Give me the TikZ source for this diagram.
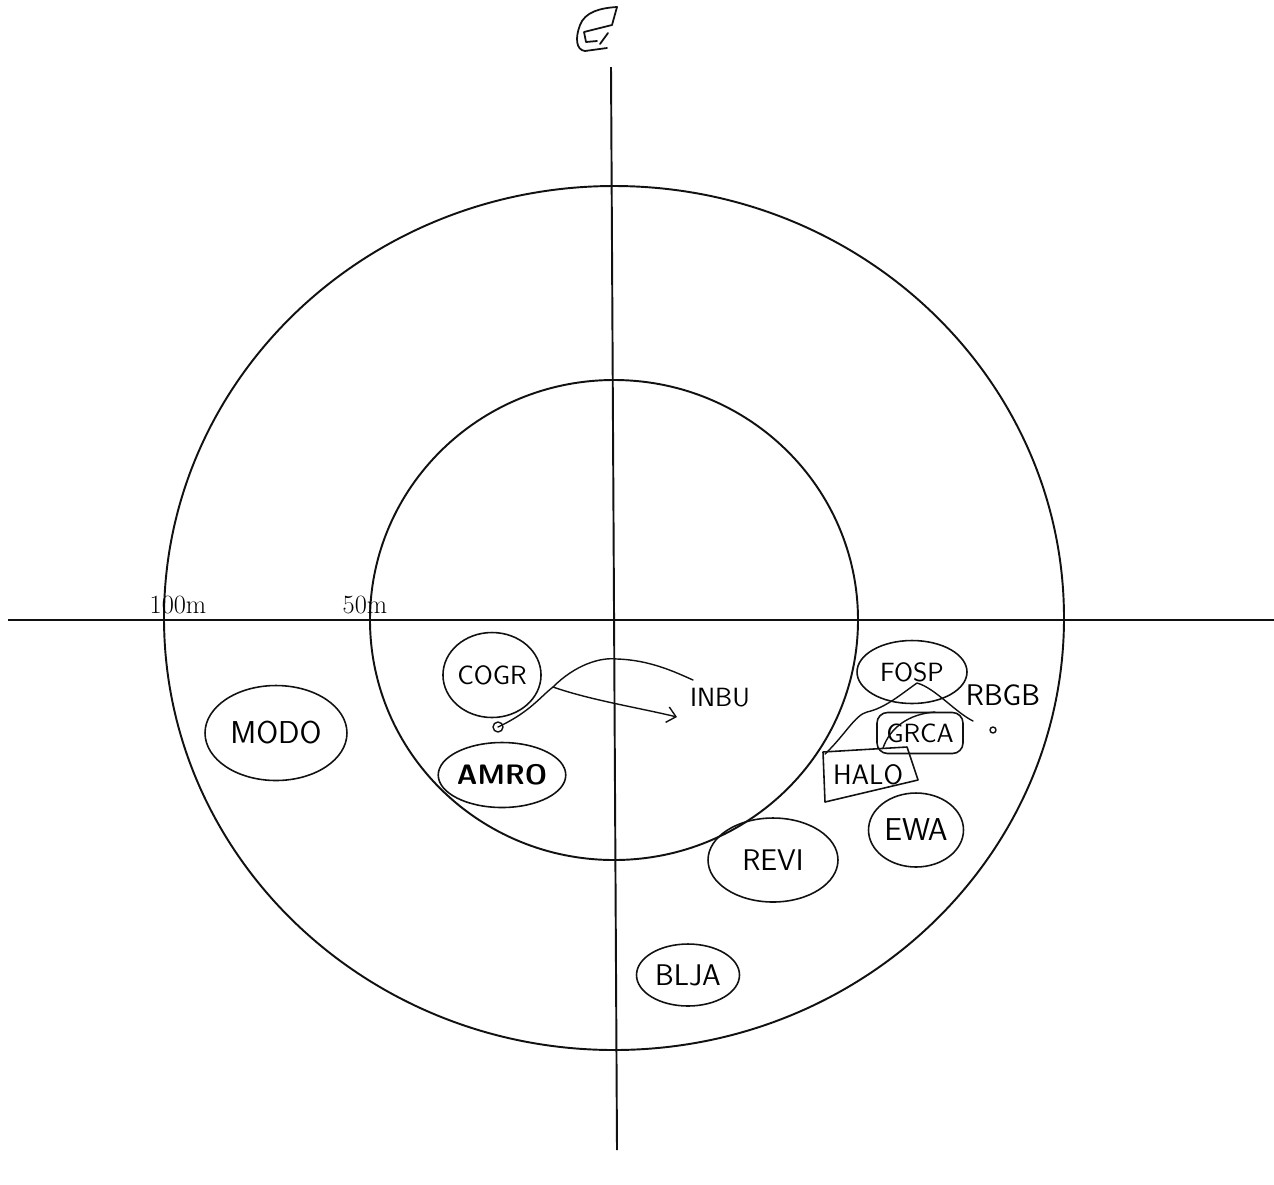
\documentclass[tikz,border=0pt]{standalone}
\usepackage{xcolor}
\usepackage{tikz}
\usetikzlibrary{arrows.meta, shapes.geometric}
\definecolor{penblack}{HTML}{111111}
\tikzset{
  ring/.style={draw=penblack, line width=1.1pt},
  axisline/.style={draw=penblack, line width=1.1pt},
  bird/.style={draw=penblack, ellipse, inner sep=0pt, line width=0.9pt,
               font=\fontsize{15}{18}\selectfont\sffamily},
  birdbox/.style={draw=penblack, rounded corners=6pt, inner sep=0pt, line width=0.9pt,
                  font=\fontsize{15}{18}\selectfont\sffamily},
  birdtag/.style={font=\fontsize{15}{18}\selectfont\sffamily, inner sep=1pt},
  distlabel/.style={font=\fontsize{15}{17}\selectfont, inner sep=0pt},
  pen/.style={penblack, line width=0.8pt, line cap=round, line join=round},
  penarrow/.style={pen, -{Straight Barb[length=5pt, width=9pt]}},
}
\begin{document}
\begin{tikzpicture}[x=0.02cm, y=-0.02cm]
  \useasboundingbox (0,0) rectangle (1274,1184);

  % rings and axes
  \draw[ring] (614,618) ellipse [x radius=450, y radius=432];
  \draw[ring] (614,620) ellipse [x radius=244, y radius=240];
  \draw[axisline] (8,620) -- (1274,620);
  \draw[axisline] (611,67) -- (617,1150);

  \node[distlabel] (d100) at (178,605) {100m};
  \node[distlabel] (d50) at (365,605) {50m};

  % top mark
  \draw[pen, line width=1pt] (617,7) .. controls (600,8) and (585,12) .. (580,25)
    .. controls (575,38) and (576,50) .. (585,51) -- (607,48);
  \draw[pen, line width=1pt] (617,7) -- (612,25) -- (584,32) -- (586,42) -- (597,41);
  \draw[pen, line width=1pt] (608,33) -- (600,44);

  % birds
  \node[bird, minimum width=1.54cm, minimum height=1.7cm] (cogr) at (492,675) {COGR};
  \node[bird, minimum width=2.3cm, minimum height=1.3cm, font=\fontsize{16}{19}\selectfont\sffamily\bfseries] (amro) at (502,775) {AMRO};
  \node[bird, minimum width=2.84cm, minimum height=1.9cm, font=\fontsize{18}{22}\selectfont\sffamily] (modo) at (276,733) {MODO};
  \node[bird, minimum width=2.2cm, minimum height=1.26cm] (fosp) at (912,672) {FOSP};
  \node[bird, minimum width=1.9cm, minimum height=1.48cm, font=\fontsize{18}{22}\selectfont\sffamily] (ewa) at (916,830) {EWA};
  \node[bird, minimum width=2.6cm, minimum height=1.68cm, font=\fontsize{17}{20}\selectfont\sffamily] (revi) at (773,860) {REVI};
  \node[bird, minimum width=2.06cm, minimum height=1.24cm, font=\fontsize{17}{20}\selectfont\sffamily] (blja) at (688,975) {BLJA};
  \node[birdbox, minimum width=1.72cm, minimum height=0.82cm] (grca) at (920,733) {GRCA};
  \node[birdtag, font=\fontsize{16}{19}\selectfont\sffamily] (halo) at (868,775) {HALO};
  \draw[pen, line width=0.9pt] (823,752) -- (907,747) -- (918,780) -- (825,802) -- cycle;
  \node[birdtag] (inbu) at (720,698) {INBU};
  \node[birdtag, font=\fontsize{17}{20}\selectfont\sffamily] (rbgb) at (1003,695) {RBGB};
  \draw[pen] (993,730) circle [radius=3];

  % COGR -> INBU
  \coordinate (knot) at (498,727);
  \coordinate (fork) at (553,687);
  \coordinate (tip) at (677,717);
  \draw[pen] (knot) circle [radius=5];
  \draw[pen] (knot) .. controls (530,712) and (540,697) .. (fork)
    .. controls (575,665) and (600,657) .. (617,659)
    .. controls (650,660) and (675,672) .. (693,680);
  \draw[penarrow] (fork) .. controls (590,700) and (640,708) .. (tip);

  % HALO - RBGB line
  \draw[pen] (825,754) .. controls (845,735) and (855,715) .. (867,712)
    .. controls (885,708) and (900,695) .. (917,683)
    .. controls (935,688) and (955,712) .. (973,721);
  \draw[pen] (883,748) .. controls (890,728) and (908,714) .. (935,712);
\end{tikzpicture}
\end{document}
